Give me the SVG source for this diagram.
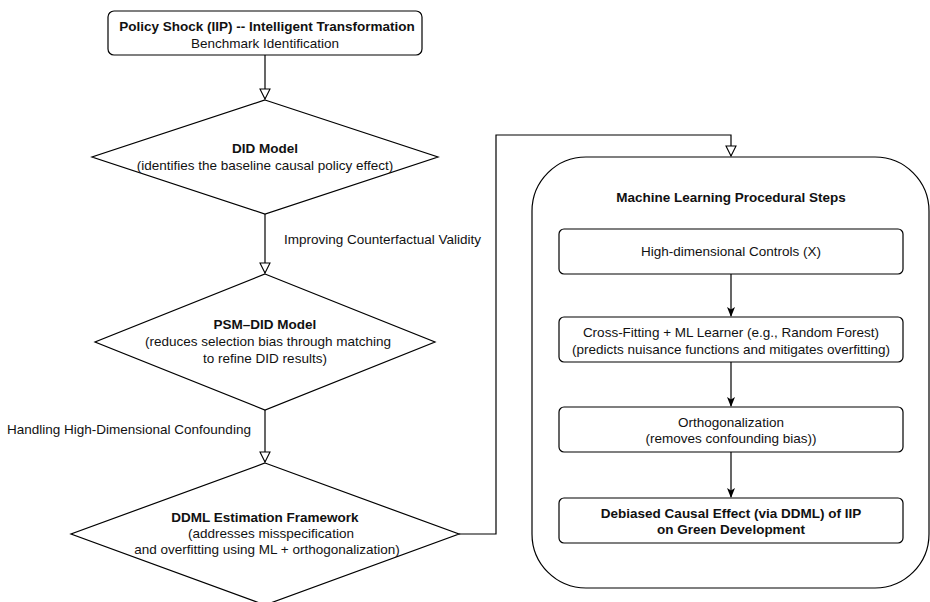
<svg xmlns="http://www.w3.org/2000/svg" width="930" height="602" viewBox="0 0 930 602">
<style>
.s{fill:#fff;stroke:#000;stroke-width:1.2}
.c{fill:none;stroke:#000;stroke-width:1.2}
text{font-family:"Liberation Sans",Arial,sans-serif;font-size:13.5px;fill:#111;text-anchor:middle}
.b{font-weight:bold}
.l{text-anchor:start}
</style>
<defs>
<marker id="ho" viewBox="0 0 12 12" refX="11" refY="6" markerWidth="12" markerHeight="12" markerUnits="userSpaceOnUse" orient="auto">
<path d="M1,1 L11,6 L1,11 Z" fill="#fff" stroke="#000" stroke-width="1.1"/>
</marker>
<marker id="fa" viewBox="0 0 10 10" refX="9" refY="5" markerWidth="10" markerHeight="10" markerUnits="userSpaceOnUse" orient="auto">
<path d="M0,1 L10,5 L0,9 L2.5,5 Z" fill="#000"/>
</marker>
</defs>
<rect width="930" height="602" fill="#fff"/>
<g id="policy">
<rect class="s" x="108" y="11" width="314" height="44" rx="6"/>
<text class="b" x="267" y="31">Policy Shock (IIP) -- Intelligent Transformation</text>
<text x="265" y="48">Benchmark Identification</text>
</g>
<g id="did">
<polygon class="s" points="265,100 438,157 265,214 92,157"/>
<text class="b" x="265" y="153">DID Model</text>
<text x="265" y="170">(identifies the baseline causal policy effect)</text>
</g>
<g id="psm">
<polygon class="s" points="265,274 435,342 265,410 95,342"/>
<text class="b" x="265" y="329">PSM–DID Model</text>
<text x="268" y="346">(reduces selection bias through matching</text>
<text x="265" y="363">to refine DID results)</text>
</g>
<g id="ddml">
<polygon class="s" points="265,463 459,534 265,605 71,534"/>
<text class="b" x="265" y="522">DDML Estimation Framework</text>
<text x="271" y="538">(addresses misspecification</text>
<text x="267" y="554">and overfitting using ML + orthogonalization)</text>
</g>
<g id="ml-group">
<rect class="s" x="532" y="157" width="397" height="431" rx="54"/>
<text class="b" x="731" y="202">Machine Learning Procedural Steps</text>
</g>
<g id="controls">
<rect class="s" x="559" y="229" width="344" height="45" rx="5"/>
<text x="731" y="256">High-dimensional Controls (X)</text>
</g>
<g id="crossfit">
<rect class="s" x="559" y="317" width="344" height="45" rx="5"/>
<text x="731" y="337">Cross-Fitting + ML Learner (e.g., Random Forest)</text>
<text x="731" y="354">(predicts nuisance functions and mitigates overfitting)</text>
</g>
<g id="orth">
<rect class="s" x="559" y="407" width="344" height="45" rx="5"/>
<text x="731" y="427">Orthogonalization</text>
<text x="731" y="443">(removes confounding bias))</text>
</g>
<g id="result">
<rect class="s" x="559" y="498" width="344" height="45" rx="5"/>
<text class="b" x="731" y="518">Debiased Causal Effect (via DDML) of IIP</text>
<text class="b" x="731" y="534">on Green Development</text>
</g>
<g id="connectors">
<line class="c" x1="265" y1="55" x2="265" y2="99" marker-end="url(#ho)"/>
<line class="c" x1="265" y1="214" x2="265" y2="273" marker-end="url(#ho)"/>
<line class="c" x1="265" y1="410" x2="265" y2="462" marker-end="url(#ho)"/>
<polyline class="c" points="459,534 496,534 496,135 731,135 731,156" marker-end="url(#ho)"/>
<line class="c" x1="731" y1="274" x2="731" y2="316" marker-end="url(#fa)"/>
<line class="c" x1="731" y1="362" x2="731" y2="406" marker-end="url(#fa)"/>
<line class="c" x1="731" y1="452" x2="731" y2="497" marker-end="url(#fa)"/>
<text class="l" x="284" y="244">Improving Counterfactual Validity</text>
<text class="l" x="7" y="434">Handling High-Dimensional Confounding</text>
</g>
</svg>
